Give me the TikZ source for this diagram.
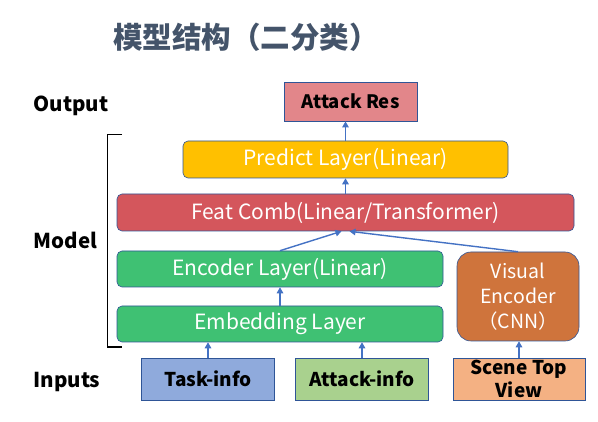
\documentclass[tikz,border=0pt]{standalone}
\usepackage{fontspec}
\setmainfont{Noto Sans CJK SC}
\usetikzlibrary{arrows.meta}

\definecolor{titlegray}{HTML}{44546A}
\definecolor{edgeblue}{HTML}{2F5597}
\definecolor{arrblue}{HTML}{4472C4}
\definecolor{resred}{HTML}{E2868A}
\definecolor{predyellow}{HTML}{FFC000}
\definecolor{combred}{HTML}{D4565C}
\definecolor{encgreen}{HTML}{3FC173}
\definecolor{visorange}{HTML}{CF743C}
\definecolor{taskblue}{HTML}{8FAADC}
\definecolor{atkgreen}{HTML}{A9D18E}
\definecolor{sceneorange}{HTML}{F4B183}

\tikzset{
  layer/.style={draw=edgeblue, line width=0.6pt, rounded corners=5pt, text=white,
    font=\fontsize{21}{23}\selectfont, inner sep=0pt},
  inbox/.style={draw=edgeblue, line width=0.8pt, text=black, minimum width=133pt,
    minimum height=42pt, inner sep=0pt, font=\bfseries\fontsize{19}{22}\selectfont, align=center},
  side/.style={anchor=west, font=\bfseries\fontsize{20.5}{23}\selectfont},
  arr/.style={-{Triangle[length=6pt,width=6.5pt]}, arrblue, line width=1.4pt}
}

\begin{document}
\begin{tikzpicture}[x=1pt,y=-1pt]
    \useasboundingbox (0,0) rectangle (598,422);
    % title
    \node[text=titlegray, font=\bfseries\fontsize{29.5}{32}\selectfont] (title) at (246,37.5) {模型结构（二分类）};
    % row labels
    \node[side] (lout) at (30,106) {Output};
    \node[side] (lmod) at (30,240) {Model};
    \node[side] (linp) at (30,382) {Inputs};
    \draw[line width=1.3pt] (122,134.5) -- (107.5,134.5) -- (107.5,347) -- (122,347);
    % output
    \node[draw=edgeblue, line width=0.8pt, fill=resred, minimum width=133pt, minimum height=39pt,
      inner sep=0pt, font=\bfseries\fontsize{18.5}{20}\selectfont] (res) at (350.5,101.5) {Attack Res};
    % model layers
    \node[layer, fill=predyellow, minimum width=325pt, minimum height=37pt] (pred) at (345.5,159.5) {Predict Layer(Linear)};
    \node[layer, fill=combred, minimum width=457pt, minimum height=37pt] (comb) at (345.5,212.5) {Feat Comb(Linear/Transformer)};
    \node[layer, fill=encgreen, minimum width=326pt, minimum height=36pt] (enc) at (280,269) {Encoder Layer(Linear)};
    \node[layer, fill=encgreen, minimum width=326pt, minimum height=36pt] (emb) at (280,324) {Embedding Layer};
    \node[layer, fill=visorange, rounded corners=14pt, minimum width=122pt, minimum height=89pt,
      align=center, font=\fontsize{19.5}{25}\selectfont] (vis) at (518,296.5) {Visual\\Encoder\\（CNN）};
    % inputs
    \node[inbox, fill=taskblue] (task) at (208,379) {Task-info};
    \node[inbox, fill=atkgreen] (atk) at (362,379) {Attack-info};
    \node[inbox, fill=sceneorange, minimum width=132pt, font=\bfseries\fontsize{19}{24}\selectfont] (scene) at (519,379) {Scene Top\\[-1pt]View};
    % connectors
    \draw[arr] (task.north) -- (task.north |- emb.south);
    \draw[arr] (atk.north) -- (atk.north |- emb.south);
    \draw[arr] (scene.north) -- (scene.north |- vis.south);
    \draw[arr] (emb.north) -- (enc.south);
    \draw[arr] (enc.north) -- ([xshift=-4pt]comb.south);
    \draw[arr] (vis.north) -- ([xshift=4pt]comb.south);
    \draw[arr] (comb.north) -- (pred.south);
    \draw[arr] (pred.north) -- (pred.north |- res.south);
\end{tikzpicture}
\end{document}
